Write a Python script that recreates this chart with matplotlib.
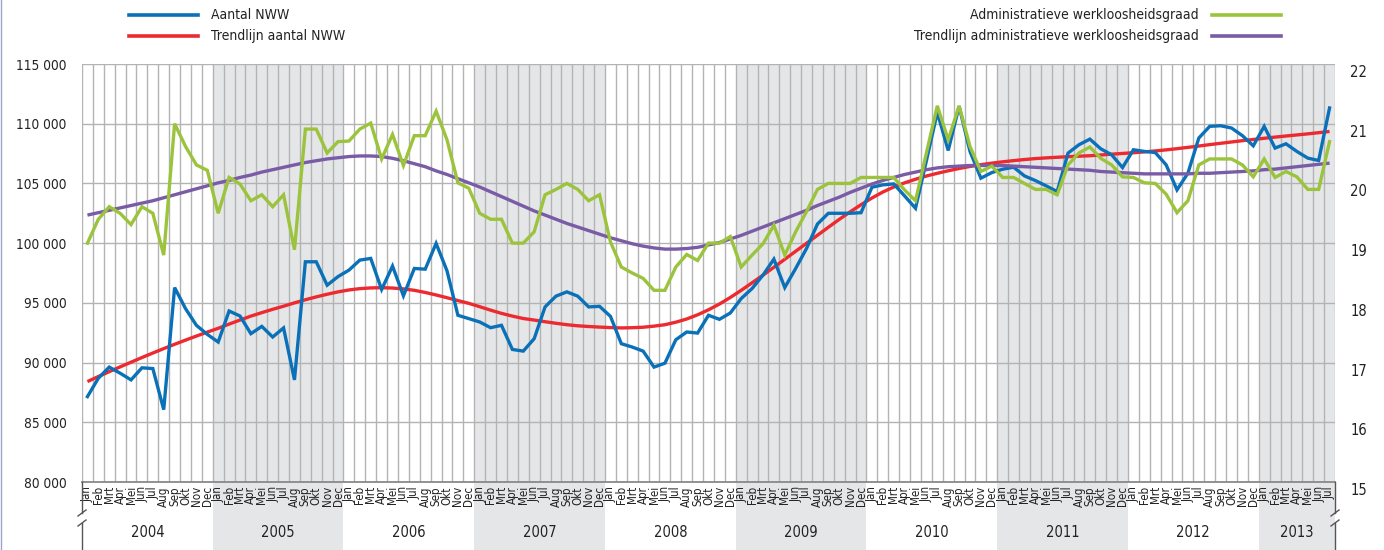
import matplotlib
matplotlib.use("Agg")
import matplotlib.pyplot as plt
from matplotlib.lines import Line2D
from matplotlib.ticker import FuncFormatter, FixedLocator
import matplotlib.transforms as mtransforms
from matplotlib import font_manager as fm

# pick a condensed font if available
_cond = None
for f in fm.fontManager.ttflist:
    if f.name == 'Liberation Sans Narrow' and f.weight in (400, 'normal') and f.style == 'normal':
        _cond = f.fname
        break
if _cond is None:
    for f in fm.fontManager.ttflist:
        fn = f.fname.lower()
        if ('condensed' in fn or 'narrow' in fn) and 'bold' not in fn and 'oblique' not in fn \
                and 'italic' not in fn and 'light' not in fn and 'semi' not in fn and 'extra' not in fn \
                and 'black' not in fn and 'medium' not in fn and 'thin' not in fn:
            _cond = f.fname
            break

def FP(size):
    if _cond:
        return fm.FontProperties(fname=_cond, size=size)
    return fm.FontProperties(family=['Liberation Sans', 'DejaVu Sans'], size=size * 0.85)

# ---------------- data ----------------
month_names = ["Jan", "Feb", "Mrt", "Apr", "Mei", "Jun", "Jul", "Aug", "Sep", "Okt", "Nov", "Dec"]
years = [2004, 2005, 2006, 2007, 2008, 2009, 2010, 2011, 2012, 2013]
months_in_year = [12, 12, 12, 12, 12, 12, 12, 12, 12, 7]
shaded_years = [2005, 2007, 2009, 2011, 2013]

aantal_nww = [
    87150, 88690, 89620, 89110, 88550, 89560, 89500, 86060, 96280, 94520, 93120, 92360,
    91720, 94320, 93900, 92420, 93030, 92140, 92900, 88550, 98440, 98440, 96480, 97200,
    97740, 98580, 98720, 96120, 98080, 95590, 97880, 97820, 99980, 97680, 93960, 93680,
    93400, 92920, 93120, 91100, 90960, 92000, 94660, 95560, 95920, 95560, 94660, 94710,
    93870, 91580, 91300, 90960, 89620, 89950, 91910, 92560, 92470, 93960, 93620, 94150,
    95360, 96200, 97320, 98660, 96280, 97880, 99560, 101600, 102500, 102500, 102500, 102550,
    104680, 104880, 104960, 103950, 102920, 106900, 110950, 107760, 111460, 107680, 105440, 105910,
    106190, 106360, 105630, 105240, 104790, 104320, 107540, 108240, 108710, 107900, 107400, 106330,
    107820, 107680, 107590, 106560, 104460, 105860, 108800, 109780, 109830, 109640, 109000, 108150,
    109780, 107960, 108320, 107680, 107120, 106920, 111320,
]

trend_nww = [
    88410, 88830, 89240, 89640, 90030, 90420, 90800, 91170, 91530, 91880, 92220, 92550,
    92870, 93220, 93560, 93890, 94180, 94460, 94720, 95000, 95260, 95500, 95720, 95920,
    96080, 96190, 96250, 96270, 96240, 96170, 96050, 95870, 95660, 95430, 95190, 94960,
    94680, 94390, 94120, 93890, 93690, 93560, 93420, 93290, 93170, 93080, 93020, 92970,
    92930, 92900, 92920, 92960, 93050, 93170, 93380, 93650, 94000, 94420, 94900, 95450,
    96050, 96680, 97320, 97980, 98650, 99320, 99990, 100660, 101330, 101990, 102620, 103220,
    103780, 104280, 104700, 105050, 105350, 105620, 105850, 106060, 106250, 106420, 106570, 106700,
    106810, 106910, 107000, 107080, 107140, 107190, 107240, 107280, 107320, 107380, 107450, 107510,
    107570, 107640, 107720, 107810, 107910, 108020, 108130, 108250, 108360, 108470, 108580, 108680,
    108780, 108880, 108970, 109060, 109150, 109250, 109350,
]

werkloosheidsgraad = [
    19.00, 19.40, 19.61, 19.50, 19.31, 19.61, 19.50, 18.80, 21.00, 20.62, 20.31, 20.22,
    19.50, 20.10, 19.99, 19.71, 19.81, 19.61, 19.81, 18.89, 20.91, 20.91, 20.51, 20.70,
    20.71, 20.91, 21.01, 20.41, 20.82, 20.30, 20.80, 20.80, 21.21, 20.73, 20.01, 19.92,
    19.50, 19.40, 19.40, 19.00, 19.00, 19.19, 19.81, 19.90, 20.00, 19.90, 19.71, 19.81,
    19.02, 18.60, 18.50, 18.41, 18.21, 18.21, 18.60, 18.81, 18.71, 19.00, 19.00, 19.11,
    18.60, 18.80, 18.99, 19.30, 18.80, 19.19, 19.53, 19.90, 20.00, 20.00, 20.00, 20.10,
    20.10, 20.10, 20.10, 19.89, 19.71, 20.51, 21.30, 20.73, 21.30, 20.62, 20.20, 20.29,
    20.10, 20.10, 20.00, 19.90, 19.90, 19.81, 20.31, 20.51, 20.61, 20.42, 20.31, 20.11,
    20.10, 20.01, 20.00, 19.82, 19.51, 19.71, 20.31, 20.41, 20.41, 20.41, 20.31, 20.11,
    20.41, 20.10, 20.20, 20.11, 19.90, 19.90, 20.70,
]

trend_graad = [
    19.47, 19.51, 19.55, 19.59, 19.63, 19.67, 19.71, 19.76, 19.81, 19.86, 19.91, 19.96,
    20.01, 20.05, 20.10, 20.14, 20.19, 20.23, 20.27, 20.31, 20.35, 20.38, 20.41, 20.43,
    20.45, 20.46, 20.46, 20.45, 20.42, 20.38, 20.33, 20.28, 20.21, 20.15, 20.08, 20.01,
    19.94, 19.86, 19.78, 19.70, 19.62, 19.54, 19.47, 19.40, 19.33, 19.27, 19.21, 19.15,
    19.09, 19.04, 18.99, 18.95, 18.92, 18.90, 18.90, 18.91, 18.93, 18.97, 19.01, 19.07,
    19.13, 19.20, 19.27, 19.34, 19.41, 19.48, 19.55, 19.63, 19.70, 19.77, 19.85, 19.92,
    19.99, 20.05, 20.10, 20.15, 20.19, 20.23, 20.26, 20.28, 20.29, 20.30, 20.30, 20.30,
    20.30, 20.29, 20.28, 20.27, 20.26, 20.25, 20.24, 20.23, 20.22, 20.20, 20.19, 20.18,
    20.17, 20.16, 20.16, 20.16, 20.16, 20.16, 20.17, 20.17, 20.18, 20.19, 20.20, 20.21,
    20.23, 20.24, 20.26, 20.28, 20.30, 20.32, 20.34,
]

left_ticks = [80000, 85000, 90000, 95000, 100000, 105000, 110000, 115000]
right_ticks = [15, 16, 17, 18, 19, 20, 21, 22]

legend_left = ["Aantal NWW", "Trendlijn aantal NWW"]
legend_right = ["Administratieve werkloosheidsgraad", "Trendlijn administratieve werkloosheidsgraad"]

# ---------------- style ----------------
C_BLUE = "#0a71b9"
C_RED = "#ec2a30"
C_GREEN = "#9bc43c"
C_PURPLE = "#7a5ba6"
C_BAND = "#e5e6e8"
C_GRID = "#b3b3b3"
C_TXT = "#222222"

labels = []
for y, n in zip(years, months_in_year):
    labels += month_names[:n]
N = len(labels)
x = list(range(N))

W, H = 1384, 550
fig = plt.figure(figsize=(W / 100, H / 100), dpi=100)
L, R, T, B = 82, 1335, 64, 482
ax = fig.add_axes([L / W, 1 - B / H, (R - L) / W, (B - T) / H])
ax2 = ax.twinx()

ax.set_xlim(-0.5, N - 0.5)
ax.set_ylim(80000, 115000)
ax2.set_ylim(15, 22)
ax.set_zorder(ax2.get_zorder() - 1)
ax2.patch.set_visible(False)

ext = (B - H) / (B - T)
start = 0
for yv, n in zip(years, months_in_year):
    if yv in shaded_years:
        ax.axvspan(start - 0.5, start + n - 0.5, ymin=ext, ymax=1, color=C_BAND,
                   lw=0, zorder=0, clip_on=False)
    start += n

for i in range(N + 1):
    ax.axvline(i - 0.5, color=C_GRID, lw=1.0, zorder=1)
for v in left_ticks:
    ax.axhline(v, color=C_GRID, lw=1.0, zorder=1)

ax.plot(x, trend_nww, color=C_RED, lw=2.4, zorder=4, solid_capstyle='butt')
ax.plot(x, aantal_nww, color=C_BLUE, lw=2.4, zorder=5, solid_joinstyle='miter')
ax2.plot(x, trend_graad, color=C_PURPLE, lw=2.4, zorder=3, solid_capstyle='butt')
ax2.plot(x, werkloosheidsgraad, color=C_GREEN, lw=2.4, zorder=4, solid_joinstyle='miter')

for a in (ax, ax2):
    for s in a.spines.values():
        s.set_visible(False)
    a.tick_params(length=0)

ax.yaxis.set_major_locator(FixedLocator(left_ticks))
ax.yaxis.set_major_formatter(FuncFormatter(lambda v, p: f"{int(v):,}".replace(",", " ")))
ax.tick_params(axis='y', pad=11, colors=C_TXT)
for lab in ax.get_yticklabels():
    lab.set_fontproperties(FP(9.8))
ax2.yaxis.set_major_locator(FixedLocator(right_ticks))
ax2.tick_params(axis='y', pad=11, colors=C_TXT)
offset = mtransforms.ScaledTranslation(0, -7 / 100, fig.dpi_scale_trans)
for lab in ax2.get_yticklabels():
    lab.set_fontproperties(FP(10.5))
    lab.set_transform(lab.get_transform() + offset)

ax.set_xticks(x)
ax.set_xticklabels(labels, rotation=90, va='top', ha='center')
for lab in ax.get_xticklabels():
    lab.set_fontproperties(FP(8.3))
ax.tick_params(axis='x', pad=3, colors=C_TXT)

ax.plot([-0.5, N - 0.5], [80000, 80000], color="#8a8a8a", lw=1.3, zorder=6, clip_on=False)

start = 0
for yv, n in zip(years, months_in_year):
    xc = start + (n - 1) / 2
    ax.text(xc, -0.12, str(yv), transform=ax.get_xaxis_transform(), ha='center',
            va='center', fontproperties=FP(10.5), color=C_TXT)
    start += n

def fx(px):
    return px / W

def fy(py):
    return 1 - py / H

for xs in (L, R):
    fig.add_artist(Line2D([fx(xs), fx(xs)], [fy(B), fy(513)], color="#555555", lw=1.0))
    fig.add_artist(Line2D([fx(xs), fx(xs)], [fy(523), fy(H)], color="#555555", lw=1.0))
    fig.add_artist(Line2D([fx(xs - 4), fx(xs + 4)], [fy(516), fy(510)], color="#555555", lw=1.0))
    fig.add_artist(Line2D([fx(xs - 4), fx(xs + 4)], [fy(526), fy(520)], color="#555555", lw=1.0))

fig.add_artist(Line2D([fx(129), fx(198)], [fy(15), fy(15)], color=C_BLUE, lw=2.6))
fig.add_artist(Line2D([fx(129), fx(198)], [fy(36), fy(36)], color=C_RED, lw=2.6))
fig.text(fx(211), fy(15), legend_left[0], ha='left', va='center', fontproperties=FP(10), color=C_TXT)
fig.text(fx(211), fy(36), legend_left[1], ha='left', va='center', fontproperties=FP(10), color=C_TXT)
fig.add_artist(Line2D([fx(1212), fx(1281)], [fy(15), fy(15)], color=C_GREEN, lw=2.6))
fig.add_artist(Line2D([fx(1212), fx(1281)], [fy(36), fy(36)], color=C_PURPLE, lw=2.6))
fig.text(fx(1199), fy(15), legend_right[0], ha='right', va='center', fontproperties=FP(10), color=C_TXT)
fig.text(fx(1199), fy(36), legend_right[1], ha='right', va='center', fontproperties=FP(10), color=C_TXT)

fig.add_artist(Line2D([fx(1), fx(1)], [0, 1], color="#9aa6c4", lw=1.0))

fig.savefig("out.png", dpi=100)
